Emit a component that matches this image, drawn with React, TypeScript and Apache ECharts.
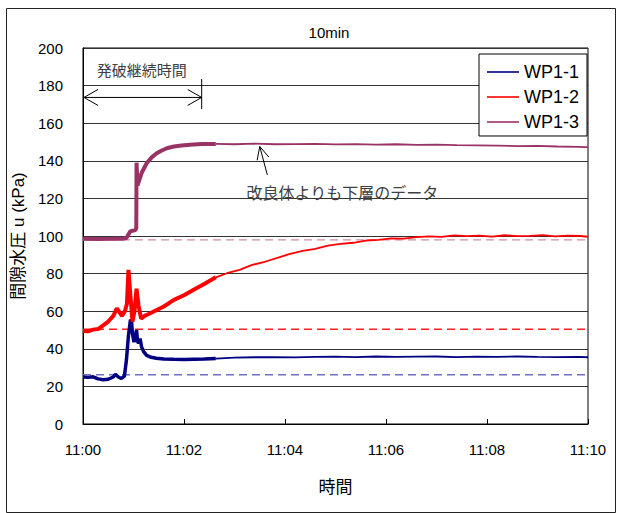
import React, { useEffect, useRef } from "react";
import * as echarts from "echarts";

// ---------- data ----------
const chartTitle = "10min";
const seriesNames = ["WP1-1", "WP1-2", "WP1-3"];
const xTickLabels = ["11:00", "11:02", "11:04", "11:06", "11:08", "11:10"]; // minutes 0..10 step 2

// WP1-1 (dense/thick part, then sparse part)
const wp11EarlyT = [0, 0.1, 0.2, 0.3, 0.4, 0.5, 0.6, 0.64, 0.7, 0.76, 0.82, 0.86, 0.9, 0.94, 0.96, 0.98, 1.01, 1.04, 1.06, 1.08, 1.1, 1.13, 1.16, 1.2, 1.26, 1.35, 1.45, 1.6, 1.8, 2.0, 2.2, 2.4, 2.63];
const wp11EarlyV = [25.0, 24.8, 25.1, 24.0, 23.5, 23.8, 25.0, 26.5, 25.0, 24.2, 25.5, 34, 47, 55.5, 55, 48, 43.5, 47, 50, 44, 43, 45.5, 41, 38.5, 36.5, 35.5, 35, 34.6, 34.4, 34.3, 34.5, 34.6, 34.8];
const lateT = [2.63, 3, 3.4, 3.8, 4.2, 4.6, 5, 5.4, 5.8, 6.2, 6.6, 7, 7.4, 7.8, 8.2, 8.6, 9, 9.4, 9.8, 10];
const wp11LateV = [34.8, 35.3, 35.5, 35.6, 35.4, 35.7, 35.8, 35.6, 35.9, 35.7, 35.8, 35.9, 35.6, 35.8, 35.7, 35.9, 35.7, 35.6, 35.7, 35.5];

// WP1-2
const wp12EarlyT = [0, 0.1, 0.2, 0.3, 0.4, 0.5, 0.6, 0.67, 0.72, 0.77, 0.83, 0.87, 0.9, 0.94, 0.98, 1.02, 1.06, 1.1, 1.15, 1.22, 1.3, 1.45, 1.6, 1.8, 2.0, 2.2, 2.4, 2.63];
const wp12EarlyV = [49.5, 49.3, 50.2, 50.5, 52.5, 54.5, 57.5, 61.5, 59.5, 57.5, 60, 64, 82, 68, 54.5, 60, 72, 63, 56, 57.5, 58.5, 60.5, 62.5, 66, 68.5, 71.5, 74.5, 78];
const wp12LateT = [2.63, 2.85, 3.1, 3.35, 3.6, 3.85, 4.1, 4.35, 4.6, 4.85, 5.1, 5.35, 5.6, 5.85, 6.1, 6.35, 6.6, 6.85, 7.1, 7.35, 7.6, 7.85, 8.1, 8.35, 8.6, 8.85, 9.1, 9.35, 9.6, 9.85, 10];
const wp12LateV = [78, 80.2, 82, 84.6, 86.3, 88.4, 90.5, 92.1, 93.2, 94.9, 95.8, 96.4, 97.6, 97.9, 98.7, 98.6, 99.4, 99.8, 99.5, 100.3, 99.9, 100.2, 99.7, 100.4, 99.9, 100.1, 100.5, 99.8, 100.2, 100, 99.6];

// WP1-3
const wp13EarlyT = [0, 0.3, 0.6, 0.8, 0.86, 0.93, 0.98, 1.03, 1.055, 1.06, 1.08, 1.1, 1.16, 1.26, 1.36, 1.46, 1.56, 1.66, 1.8, 1.95, 2.12, 2.35, 2.63];
const wp13EarlyV = [98.5, 98.4, 98.5, 98.6, 98.9, 102.3, 102.8, 103, 104, 139, 127, 128.5, 133.5, 138.7, 141.8, 144, 145.5, 146.7, 147.6, 148.1, 148.5, 148.9, 149];
const wp13LateV = [149, 148.8, 149.1, 148.8, 148.9, 149, 148.7, 148.9, 148.6, 148.8, 148.5, 148.6, 148.3, 148.2, 148.1, 147.8, 147.9, 147.6, 147.4, 147.3];

// initial (pre-blast) reference levels, dashed
const baselineV = [26.2, 50.4, 97.9];

// annotations (minutes, kPa)
const blastLabel = "発破継続時間";
const blastEnd = 2.35;
const blastArrowV = 173.7;
const blastTickTop = 183.5;
const blastTickBottom = 167.5;
const blastLabelPos = [0.27, 188.8];
const noteLabel = "改良体よりも下層のデータ";
const noteTip = [3.5, 147.6];
const noteTail = [3.65, 132.5];
const noteLabelPos = [3.24, 123.6];

// ---------- styles ----------
const lineColors = ["#000080", "#ff0000", "#993366"];
const baseColors = ["#6f6fc4", "#ff2020", "#d08aa8"];
const latin = "'Liberation Sans', 'Noto Sans CJK JP', sans-serif";
const cjk = "'Noto Sans CJK JP', sans-serif";
const legendIcon = "path://M0,0 L40,0 L40,2 L0,2 Z";

const zip = (t: number[], v: number[]) => t.map((x, i) => [x, v[i]]);

export default function App() {
  const ref = useRef<HTMLDivElement>(null);
  useEffect(() => {
    document.body.style.margin = "0";
    const chart = echarts.init(ref.current!, null, { renderer: "svg" });

    const early = [zip(wp11EarlyT, wp11EarlyV), zip(wp12EarlyT, wp12EarlyV), zip(wp13EarlyT, wp13EarlyV)];
    const late = [zip(lateT, wp11LateV), zip(wp12LateT, wp12LateV), zip(lateT, wp13LateV)];

    const series: any[] = [];
    baselineV.forEach((b, i) => {
      series.push({
        name: "base" + i,
        type: "line",
        data: [[0, b], [10, b]],
        symbol: "none",
        silent: true,
        z: 1,
        lineStyle: { color: baseColors[i], width: 1.3, type: [8, 5] },
      });
    });
    seriesNames.forEach((n, i) => {
      series.push({
        name: n,
        type: "line",
        data: early[i],
        symbol: "none",
        z: 3 + i,
        lineStyle: { color: lineColors[i], width: i === 0 ? 3.5 : 4 },
        itemStyle: { color: lineColors[i] },
      });
      series.push({
        name: n,
        type: "line",
        data: late[i],
        symbol: "none",
        z: 3 + i,
        lineStyle: { color: lineColors[i], width: 1.8 },
        itemStyle: { color: lineColors[i] },
      });
    });

    const option: any = {
      animation: false,
      backgroundColor: "#fff",
      title: {
        text: chartTitle,
        left: 324,
        top: 20,
        textAlign: "center",
        textStyle: { fontFamily: latin, fontSize: 15, fontWeight: "normal", color: "#000" },
      },
      legend: {
        data: seriesNames.map((n) => ({ name: n, icon: legendIcon })),
        orient: "vertical",
        left: 479,
        top: 54,
        padding: [9, 8, 5, 8],
        itemGap: 7,
        itemWidth: 32,
        itemHeight: 16,
        itemStyle: { borderWidth: 0 },
        borderColor: "#000",
        borderWidth: 1,
        backgroundColor: "#fff",
        textStyle: { fontFamily: latin, fontSize: 18, color: "#000" },
      },
      grid: {
        left: 83,
        top: 48,
        width: 505,
        height: 376,
        show: true,
        borderColor: "#000",
        borderWidth: 1,
      },
      xAxis: {
        type: "value",
        min: 0,
        max: 10,
        interval: 2,
        name: "時間",
        nameLocation: "middle",
        nameGap: 53,
        nameTextStyle: { fontFamily: cjk, fontSize: 17, color: "#000" },
        axisLine: { lineStyle: { color: "#000", width: 1 } },
        axisTick: { inside: true, length: 5, lineStyle: { color: "#000" } },
        splitLine: { show: false },
        axisLabel: {
          margin: 18,
          fontFamily: latin,
          fontSize: 15,
          color: "#000",
          formatter: (v: number) => xTickLabels[Math.round(v / 2)] ?? "",
        },
      },
      yAxis: {
        type: "value",
        min: 0,
        max: 200,
        interval: 20,
        name: "間隙水圧 u (kPa)",
        nameLocation: "middle",
        nameRotate: 90,
        nameGap: 55,
        nameTextStyle: { fontFamily: latin, fontSize: 17, color: "#000" },
        axisLine: { show: true, lineStyle: { color: "#000", width: 1 } },
        axisTick: { show: false },
        splitLine: { lineStyle: { color: "#333", width: 1 } },
        axisLabel: { margin: 20, fontFamily: latin, fontSize: 15, color: "#000" },
      },
      series,
    };
    chart.setOption(option);

    const px = (p: number[]) => chart.convertToPixel({ gridIndex: 0 }, p) as number[];
    const a0 = px([0, blastArrowV]);
    const a1 = px([blastEnd, blastArrowV]);
    const tt = px([blastEnd, blastTickTop]);
    const tb = px([blastEnd, blastTickBottom]);
    const bl = px(blastLabelPos);
    const tip = px(noteTip);
    const tail = px(noteTail);
    const nl = px(noteLabelPos);
    const dx = tail[0] - tip[0];
    const dy = tail[1] - tip[1];
    const ang = Math.atan2(dy, dx);
    const wing = (d: number) => [tip[0] + 14 * Math.cos(ang + d), tip[1] + 14 * Math.sin(ang + d)];
    const arrowStyle = { stroke: "#000", lineWidth: 1, fill: null };

    chart.setOption({
      graphic: [
        {
          type: "rect",
          left: 4,
          top: 6,
          shape: { width: 609, height: 504 },
          style: { fill: null, stroke: "#222", lineWidth: 1 },
          silent: true,
          z: -1,
        },
        { type: "line", shape: { x1: a0[0] + 1, y1: a0[1], x2: a1[0], y2: a1[1] }, style: arrowStyle, z: 10 },
        { type: "polyline", shape: { points: [[a0[0] + 15, a0[1] - 8], [a0[0] + 1, a0[1]], [a0[0] + 15, a0[1] + 8]] }, style: arrowStyle, z: 10 },
        { type: "polyline", shape: { points: [[a1[0] - 14, a1[1] - 8], [a1[0], a1[1]], [a1[0] - 14, a1[1] + 8]] }, style: arrowStyle, z: 10 },
        { type: "line", shape: { x1: tt[0], y1: tt[1], x2: tb[0], y2: tb[1] }, style: arrowStyle, z: 10 },
        {
          type: "text",
          x: bl[0],
          y: bl[1],
          style: { text: blastLabel, fontFamily: cjk, fontSize: 15, fill: "#404040", verticalAlign: "middle", align: "left" },
          z: 10,
        },
        { type: "line", shape: { x1: tip[0], y1: tip[1], x2: tail[0], y2: tail[1] }, style: arrowStyle, z: 10 },
        { type: "polyline", shape: { points: [wing(0.45), tip, wing(-0.45)] }, style: arrowStyle, z: 10 },
        {
          type: "text",
          x: nl[0],
          y: nl[1],
          style: { text: noteLabel, fontFamily: cjk, fontSize: 16, fill: "#404040", verticalAlign: "middle", align: "left" },
          z: 10,
        },
      ],
    });

    return () => chart.dispose();
  }, []);
  return <div ref={ref} style={{ width: 617, height: 513 }} />;
}
